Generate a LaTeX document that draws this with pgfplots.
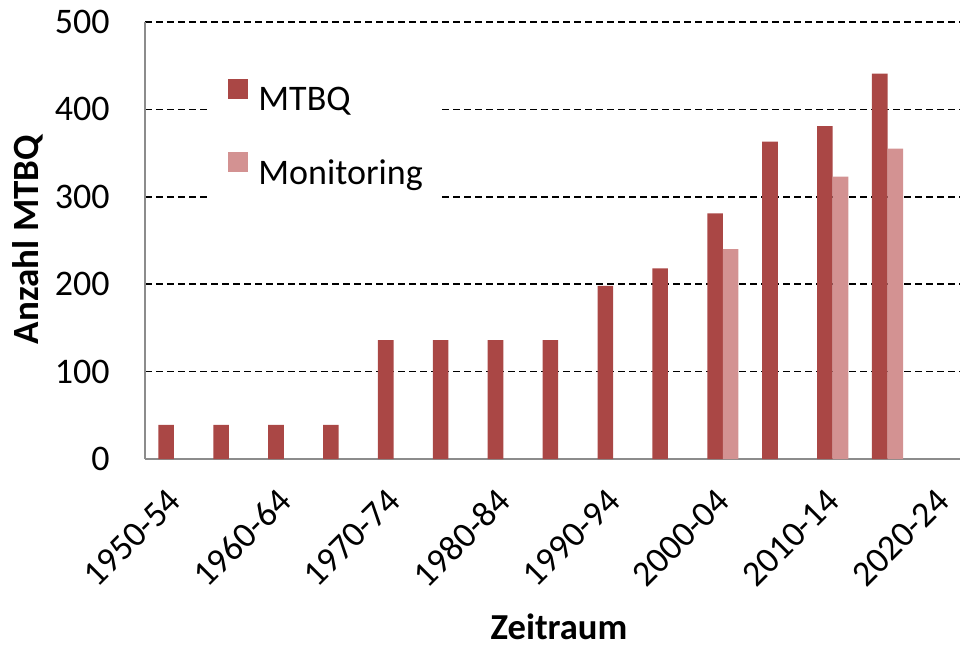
\documentclass[border=0pt]{standalone}
\usepackage{pgfplots}
\pgfplotsset{compat=1.18}
\usepackage{fontspec}
\setmainfont{Carlito}
\definecolor{mtbq}{RGB}{170,71,69}
\definecolor{moni}{RGB}{211,146,146}
\definecolor{axgray}{RGB}{140,140,140}
\begin{document}
\begin{tikzpicture}
\begin{axis}[
  name=ax,
  scale only axis,
  width=407.5pt, height=218.5pt,
  xmin=-0.528, xmax=14.32,
  ymin=0, ymax=500,
  ybar=0pt, bar width=7.8pt,
  axis x line*=bottom, axis y line*=left,
  axis line style={axgray, line width=1pt},
  ytick={0,100,...,500},
  xtick={0,2,...,14},
  xticklabels={1950-54,1960-64,1970-74,1980-84,1990-94,2000-04,2010-14,2020-24},
  major tick length=0pt,
  ymajorgrids,
  grid style={black, line width=0.8pt, dash pattern=on 3.5pt off 2pt},
  tick label style={font=\fontsize{18}{21}\selectfont},
  /pgf/number format/assume math mode=true,
  yticklabel style={anchor=east, inner sep=0pt, xshift=-17.5pt},
  xticklabel style={xshift=0.5pt, yshift=-18pt, rotate=45, anchor=east, inner sep=0pt},
  xlabel={Zeitraum},
  xlabel style={at={(axis description cs:0.508,0)}, anchor=north, inner sep=0pt, yshift=-77pt, font=\bfseries\fontsize{18.3}{21}\selectfont},
  ylabel={Anzahl MTBQ},
  ylabel style={at={(axis description cs:-0.1436,0.502)}, anchor=center, inner sep=0pt, font=\bfseries\fontsize{18.5}{21}\selectfont},
  legend style={at={(0.0798,0.916)}, anchor=north west, draw=none, fill=white,
    inner xsep=9pt, inner ysep=10pt, row sep=19pt, column sep=5pt,
    nodes={inner sep=0pt}, font=\fontsize{18}{21}\selectfont},
  legend image code/.code={\fill[#1] (0pt,0.8pt) rectangle (10pt,10.8pt);},
  legend cell align=left,
]
\addplot[fill=mtbq, draw=none] coordinates {
  (0,39) (1,39) (2,39) (3,39) (4,136) (5,136) (6,136) (7,136)
  (8,198) (9,218) (10,281) (11,363) (12,381) (13,441)};
\addplot[fill=moni, draw=none] coordinates {
  (10,240) (12,323) (13,355)};
\legend{MTBQ, Monitoring}
\end{axis}
\pgfresetboundingbox
\path ([xshift=-72.5pt,yshift=-94pt]ax.south west) rectangle ([xshift=0.5pt,yshift=11pt]ax.north east);
\end{tikzpicture}
\end{document}
